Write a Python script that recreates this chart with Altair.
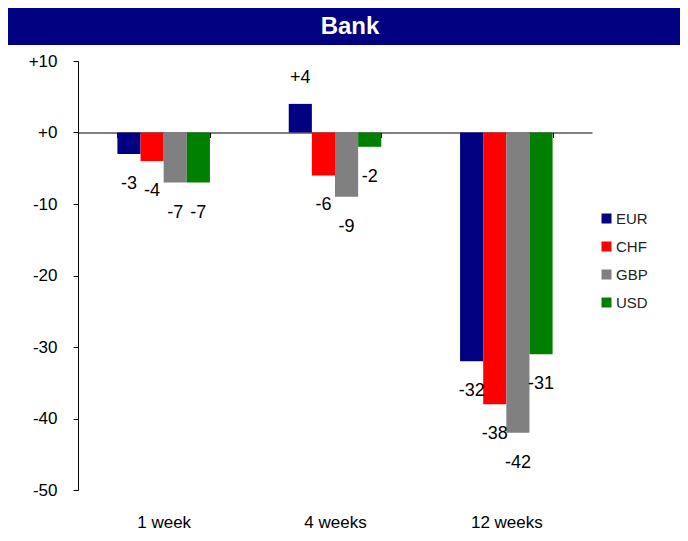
import altair as alt
import pandas as pd

# ---- data ----
periods = ["1 week", "4 weeks", "12 weeks"]
currencies = ["EUR", "CHF", "GBP", "USD"]
eur = [-3, 4, -32]
chf = [-4, -6, -38]
gbp = [-7, -9, -42]
usd = [-7, -2, -31]
title_text = "Bank"
y_ticks = [10, 0, -10, -20, -30, -40, -50]

# ---- style ----
colors = ["#000080", "#FF0000", "#808080", "#008000"]
FONT = "Liberation Sans"
W, H = 514, 429

series = {"EUR": eur, "CHF": chf, "GBP": gbp, "USD": usd}
rows = []
for c in currencies:
    for p, v in zip(periods, series[c]):
        rows.append({
            "period": p,
            "currency": c,
            "value": v,
            "label": ("+" if v >= 0 else "") + str(v),
        })
df = pd.DataFrame(rows)

x_enc = alt.X(
    "period:N",
    sort=periods,
    scale=alt.Scale(paddingInner=0.46, paddingOuter=0.23),
    axis=alt.Axis(
        title=None,
        offset=-(H - H * 10 / 60),
        domainColor="black",
        tickColor="black",
        tickSize=5,
        tickBand="extent",
        labelFontSize=17,
        labelFont=FONT,
        labelColor="black",
        labelBaseline="alphabetic",
        labelPadding=390,
        labelAngle=0,
    ),
)
y_enc = alt.Y(
    "value:Q",
    scale=alt.Scale(domain=[-50, 10], nice=False),
    axis=alt.Axis(
        title=None,
        values=y_ticks,
        labelExpr="datum.value >= 0 ? '+' + datum.value : '' + datum.value",
        grid=False,
        domainColor="black",
        tickColor="black",
        tickSize=5,
        labelFontSize=17,
        labelFont=FONT,
        labelColor="black",
        labelPadding=16,
    ),
)
xo = alt.XOffset("currency:N", sort=currencies, scale=alt.Scale(paddingInner=0, paddingOuter=0))

base = alt.Chart(df)

bars = base.mark_bar().encode(
    x=x_enc,
    xOffset=xo,
    y=y_enc,
    color=alt.Color(
        "currency:N",
        sort=currencies,
        scale=alt.Scale(domain=currencies, range=colors),
        legend=alt.Legend(
            title=None,
            orient="none",
            legendX=521,
            legendY=150,
            symbolType="square",
            symbolSize=100,
            symbolStrokeWidth=0,
            labelFontSize=15,
            labelFont=FONT,
            labelColor="#222222",
            rowPadding=12,
            labelOffset=2,
        ),
    ),
)

label_common = dict(font=FONT, fontSize=18, color="black", baseline="middle")
label_enc = dict(
    x=alt.X("period:N", sort=periods),
    xOffset=xo,
    y=alt.Y("value:Q"),
    text="label:N",
)
labels_neg = base.transform_filter(alt.datum.value < 0).mark_text(dy=30, **label_common).encode(**label_enc)
labels_pos = base.transform_filter(alt.datum.value >= 0).mark_text(dy=-26, **label_common).encode(**label_enc)

tdf = pd.DataFrame({"t": [title_text]})
title_bg = alt.Chart(tdf).mark_rect(color="#000080").encode(
    x=alt.value(-70), x2=alt.value(602), y=alt.value(-53), y2=alt.value(-16)
)
title_txt = alt.Chart(tdf).mark_text(
    font=FONT, fontSize=24, fontWeight="bold", color="white", baseline="middle", align="center"
).encode(x=alt.value(272), y=alt.value(-34), text="t:N")

chart = (
    alt.layer(bars, labels_neg, labels_pos, title_bg, title_txt)
    .properties(
        width=W,
        height=H,
        autosize=alt.AutoSizeParams(type="none"),
        padding={"left": 70, "top": 53, "right": 88, "bottom": 43},
    )
    .configure_view(stroke=None)
    .configure_axis(domainWidth=1, tickWidth=1)
)

chart.save("out.html", embed_options={"renderer": "svg", "actions": False})
